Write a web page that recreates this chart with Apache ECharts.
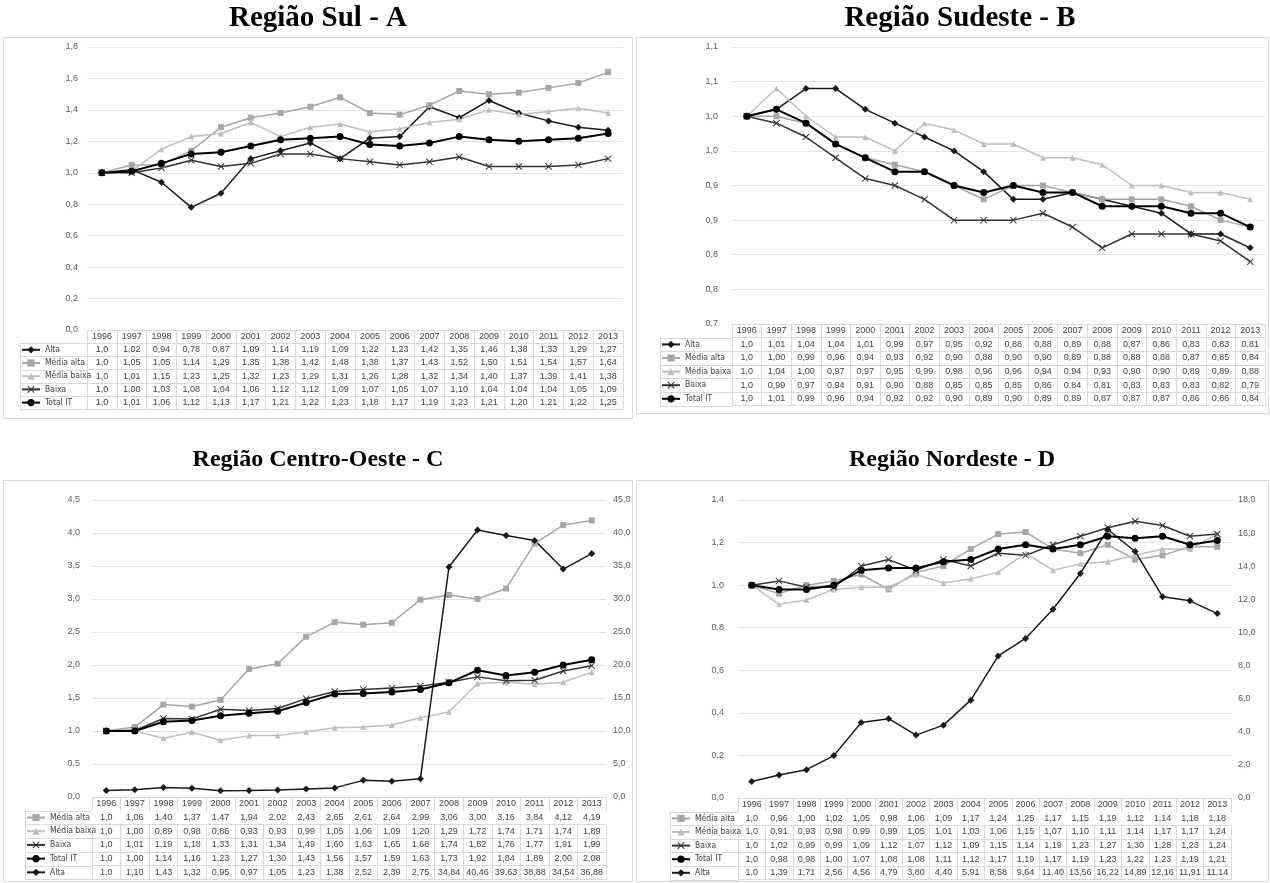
<!DOCTYPE html>
<html>
<head>
<meta charset="utf-8">
<script src="https://cdn.jsdelivr.net/npm/echarts@6/dist/echarts.min.js"></script>
<style>
  html, body { margin: 0; padding: 0; background: #ffffff; }
  #chart { width: 1270px; height: 883px; }
</style>
</head>
<body>
<div id="chart"></div>
<script>
// Índices de intensidade tecnológica por região (1996 = 1,0)
const years = ['1996','1997','1998','1999','2000','2001','2002','2003','2004','2005','2006','2007','2008','2009','2010','2011','2012','2013'];

// Região Sul
const sulAlta       = [1.0,1.02,0.94,0.78,0.87,1.09,1.14,1.19,1.09,1.22,1.23,1.42,1.35,1.46,1.38,1.33,1.29,1.27];
const sulMediaAlta  = [1.0,1.05,1.05,1.14,1.29,1.35,1.38,1.42,1.48,1.38,1.37,1.43,1.52,1.50,1.51,1.54,1.57,1.64];
const sulMediaBaixa = [1.0,1.01,1.15,1.23,1.25,1.32,1.23,1.29,1.31,1.26,1.28,1.32,1.34,1.40,1.37,1.39,1.41,1.38];
const sulBaixa      = [1.0,1.00,1.03,1.08,1.04,1.06,1.12,1.12,1.09,1.07,1.05,1.07,1.10,1.04,1.04,1.04,1.05,1.09];
const sulTotal      = [1.0,1.01,1.06,1.12,1.13,1.17,1.21,1.22,1.23,1.18,1.17,1.19,1.23,1.21,1.20,1.21,1.22,1.25];

// Região Sudeste
const sudAlta       = [1.0,1.01,1.04,1.04,1.01,0.99,0.97,0.95,0.92,0.88,0.88,0.89,0.88,0.87,0.86,0.83,0.83,0.81];
const sudMediaAlta  = [1.0,1.00,0.99,0.96,0.94,0.93,0.92,0.90,0.88,0.90,0.90,0.89,0.88,0.88,0.88,0.87,0.85,0.84];
const sudMediaBaixa = [1.0,1.04,1.00,0.97,0.97,0.95,0.99,0.98,0.96,0.96,0.94,0.94,0.93,0.90,0.90,0.89,0.89,0.88];
const sudBaixa      = [1.0,0.99,0.97,0.94,0.91,0.90,0.88,0.85,0.85,0.85,0.86,0.84,0.81,0.83,0.83,0.83,0.82,0.79];
const sudTotal      = [1.0,1.01,0.99,0.96,0.94,0.92,0.92,0.90,0.89,0.90,0.89,0.89,0.87,0.87,0.87,0.86,0.86,0.84];

// Região Centro-Oeste (Alta no eixo secundário)
const coMediaAlta  = [1.0,1.06,1.40,1.37,1.47,1.94,2.02,2.43,2.65,2.61,2.64,2.99,3.06,3.00,3.16,3.84,4.12,4.19];
const coMediaBaixa = [1.0,1.00,0.89,0.98,0.86,0.93,0.93,0.99,1.05,1.06,1.09,1.20,1.29,1.72,1.74,1.71,1.74,1.89];
const coBaixa      = [1.0,1.01,1.19,1.18,1.33,1.31,1.34,1.49,1.60,1.63,1.65,1.68,1.74,1.82,1.76,1.77,1.91,1.99];
const coTotal      = [1.0,1.00,1.14,1.16,1.23,1.27,1.30,1.43,1.56,1.57,1.59,1.63,1.73,1.92,1.84,1.89,2.00,2.08];
const coAlta       = [1.0,1.10,1.43,1.32,0.95,0.97,1.05,1.23,1.38,2.52,2.39,2.75,34.84,40.46,39.63,38.88,34.54,36.88];

// Região Nordeste (Alta no eixo secundário)
const neMediaAlta  = [1.0,0.96,1.00,1.02,1.05,0.98,1.06,1.09,1.17,1.24,1.25,1.17,1.15,1.19,1.12,1.14,1.18,1.18];
const neMediaBaixa = [1.0,0.91,0.93,0.98,0.99,0.99,1.05,1.01,1.03,1.06,1.15,1.07,1.10,1.11,1.14,1.17,1.17,1.24];
const neBaixa      = [1.0,1.02,0.99,0.99,1.09,1.12,1.07,1.12,1.09,1.15,1.14,1.19,1.23,1.27,1.30,1.28,1.23,1.24];
const neTotal      = [1.0,0.98,0.98,1.00,1.07,1.08,1.08,1.11,1.12,1.17,1.19,1.17,1.19,1.23,1.22,1.23,1.19,1.21];
const neAlta       = [1.0,1.39,1.71,2.56,4.56,4.79,3.80,4.40,5.91,8.58,9.64,11.40,13.56,16.22,14.89,12.16,11.91,11.14];

const FONT = '"Liberation Sans", Arial, sans-serif';
const NARROW = '"Liberation Sans Narrow", "DejaVu Sans Condensed", "Liberation Sans", sans-serif';
const TEXT = '#404040';
const BORDER = '#d9d9d9';
const X_MARK = 'path://M1,0L5,4L9,0L10,1L6,5L10,9L9,10L5,6L1,10L0,9L4,5L0,1Z';

const STYLE = {
  'Alta':        { color: '#1a1a1a', symbol: 'diamond',  size: 7, width: 1.5 },
  'Média alta':  { color: '#a6a6a6', symbol: 'rect',     size: 6, width: 1.5 },
  'Média baixa': { color: '#bfbfbf', symbol: 'triangle', size: 6, width: 1.5 },
  'Baixa':       { color: '#333333', symbol: X_MARK,     size: 7, width: 1.5 },
  'Total IT':    { color: '#000000', symbol: 'circle',   size: 7, width: 2 }
};

const fmt1 = v => (Math.round(v * 10) / 10).toFixed(1).replace('.', ',');
const cell = (v, i) => (i === 0 ? v.toFixed(1) : v.toFixed(2)).replace('.', ',');

const panels = [
  { title: 'Região Sul - A', cx: 318, ty: 19, titleSize: 29, box: [3, 37, 629, 381],
    grid: { left: 87, top: 47, width: 536, height: 283 }, rowH: 13.2, legendX: 20, leftMargin: 9,
    left: { min: 0, max: 1.8, interval: 0.2 },
    rows: [['Alta', sulAlta], ['Média alta', sulMediaAlta], ['Média baixa', sulMediaBaixa], ['Baixa', sulBaixa], ['Total IT', sulTotal]] },
  { title: 'Região Sudeste - B', cx: 960, ty: 19, titleSize: 29, box: [636, 37, 632, 376],
    grid: { left: 732, top: 47, width: 533, height: 277 }, rowH: 13.6, legendX: 660, leftMargin: 14,
    left: { min: 0.7, max: 1.1, interval: 0.05 },
    rows: [['Alta', sudAlta], ['Média alta', sudMediaAlta], ['Média baixa', sudMediaBaixa], ['Baixa', sudBaixa], ['Total IT', sudTotal]] },
  { title: 'Região Centro-Oeste - C', cx: 318, ty: 460, titleSize: 24, box: [3, 480, 629, 401],
    grid: { left: 92, top: 500, width: 514, height: 297 }, rowH: 13.7, legendX: 25, leftMargin: 12,
    left: { min: 0, max: 4.5, interval: 0.5 }, right: { min: 0, max: 45, interval: 5 }, rightSeries: 'Alta',
    rows: [['Média alta', coMediaAlta], ['Média baixa', coMediaBaixa], ['Baixa', coBaixa], ['Total IT', coTotal], ['Alta', coAlta]] },
  { title: 'Região Nordeste - D', cx: 952, ty: 460, titleSize: 24, box: [636, 480, 632, 401],
    grid: { left: 738, top: 500, width: 493, height: 298 }, rowH: 13.6, legendX: 670, leftMargin: 14,
    left: { min: 0, max: 1.4, interval: 0.2 }, right: { min: 0, max: 18, interval: 2 }, rightSeries: 'Alta',
    rows: [['Média alta', neMediaAlta], ['Média baixa', neMediaBaixa], ['Baixa', neBaixa], ['Total IT', neTotal], ['Alta', neAlta]] }
];

const option = {
  animation: false,
  backgroundColor: '#ffffff',
  grid: [], xAxis: [], yAxis: [], series: [], legend: [], graphic: []
};

// Eixo de categoria que desenha uma linha da tabela de dados abaixo do gráfico
function tableAxis(gridIndex, data, offset, rowH, showLabel, showTick) {
  return {
    gridIndex, type: 'category', position: 'bottom', offset, data, boundaryGap: true,
    axisLine: { show: true, lineStyle: { color: BORDER, width: 1 } },
    axisTick: { show: showTick, interval: 0, length: rowH, alignWithLabel: false, lineStyle: { color: BORDER, width: 1 } },
    axisLabel: { show: showLabel, interval: 0, hideOverlap: false, margin: (rowH - 9) / 2,
                 fontSize: 9, lineHeight: 9, color: TEXT, fontFamily: FONT },
    splitLine: { show: false }
  };
}

panels.forEach((p, gi) => {
  const g = p.grid;
  const bottomY = g.top + g.height;
  option.grid.push({ left: g.left, top: g.top, width: g.width, height: g.height, containLabel: false });

  // eixo principal (anos) + linhas da tabela
  const xMain = option.xAxis.length;
  option.xAxis.push(tableAxis(gi, years, 0, p.rowH, true, true));
  p.rows.forEach(([name, vals], k) => {
    option.xAxis.push(tableAxis(gi, vals.map(cell), (k + 1) * p.rowH, p.rowH, true, true));
  });
  option.xAxis.push(tableAxis(gi, years, (p.rows.length + 1) * p.rowH, p.rowH, false, false));

  const yLeft = option.yAxis.length;
  option.yAxis.push({
    gridIndex: gi, type: 'value', position: 'left',
    min: p.left.min, max: p.left.max, interval: p.left.interval,
    axisLine: { show: false }, axisTick: { show: false },
    axisLabel: { formatter: fmt1, fontSize: 9, color: '#595959', fontFamily: FONT, margin: p.leftMargin },
    splitLine: { show: true, lineStyle: { color: '#e3e3e3', width: 1 } }
  });
  let yRight = yLeft;
  if (p.right) {
    yRight = option.yAxis.length;
    option.yAxis.push({
      gridIndex: gi, type: 'value', position: 'right',
      min: p.right.min, max: p.right.max, interval: p.right.interval,
      axisLine: { show: false }, axisTick: { show: false },
      axisLabel: { formatter: fmt1, fontSize: 9, color: '#595959', fontFamily: FONT, margin: 7 },
      splitLine: { show: false }
    });
  }

  p.rows.forEach(([name, vals]) => {
    const s = STYLE[name];
    option.series.push({
      type: 'line', name, xAxisIndex: xMain,
      yAxisIndex: (p.rightSeries === name) ? yRight : yLeft,
      data: vals, symbol: s.symbol, symbolSize: s.size, showAllSymbol: true,
      lineStyle: { color: s.color, width: s.width },
      itemStyle: { color: s.color, borderWidth: 0 },
      emphasis: { disabled: true }, silent: true,
      z: name === 'Total IT' ? 5 : 3
    });
  });

  // coluna de legenda da tabela
  option.legend.push({
    orient: 'vertical', left: p.legendX + 1, top: bottomY + p.rowH + (p.rowH - 9) / 2,
    itemGap: p.rowH - 9, itemWidth: 18, itemHeight: 9, selectedMode: false, padding: 0,
    data: p.rows.map(r => r[0]),
    textStyle: { fontSize: 8.5, lineHeight: 9, color: TEXT, fontFamily: NARROW }
  });

  const n = p.rows.length;
  for (let k = 1; k <= n + 1; k++) {
    const y = Math.round(bottomY + k * p.rowH) + 0.5;
    option.graphic.push({ type: 'line', silent: true,
      shape: { x1: p.legendX, y1: y, x2: g.left, y2: y }, style: { stroke: BORDER, lineWidth: 1 } });
  }
  option.graphic.push({ type: 'line', silent: true,
    shape: { x1: p.legendX + 0.5, y1: bottomY + p.rowH, x2: p.legendX + 0.5, y2: bottomY + (n + 1) * p.rowH },
    style: { stroke: BORDER, lineWidth: 1 } });

  // moldura do painel
  option.graphic.push({ type: 'rect', silent: true, z: -1,
    shape: { x: p.box[0] + 0.5, y: p.box[1] + 0.5, width: p.box[2], height: p.box[3] },
    style: { fill: 'none', stroke: BORDER, lineWidth: 1 } });

  // título do painel
  option.graphic.push({ type: 'text', silent: true, x: p.cx, y: p.ty,
    style: { text: p.title, font: 'bold ' + p.titleSize + 'px "Liberation Serif", "Times New Roman", serif',
             fill: '#000000', textAlign: 'center', textVerticalAlign: 'middle' } });
});

const chart = echarts.init(document.getElementById('chart'), null, { renderer: 'canvas' });
chart.setOption(option);
</script>
</body>
</html>
